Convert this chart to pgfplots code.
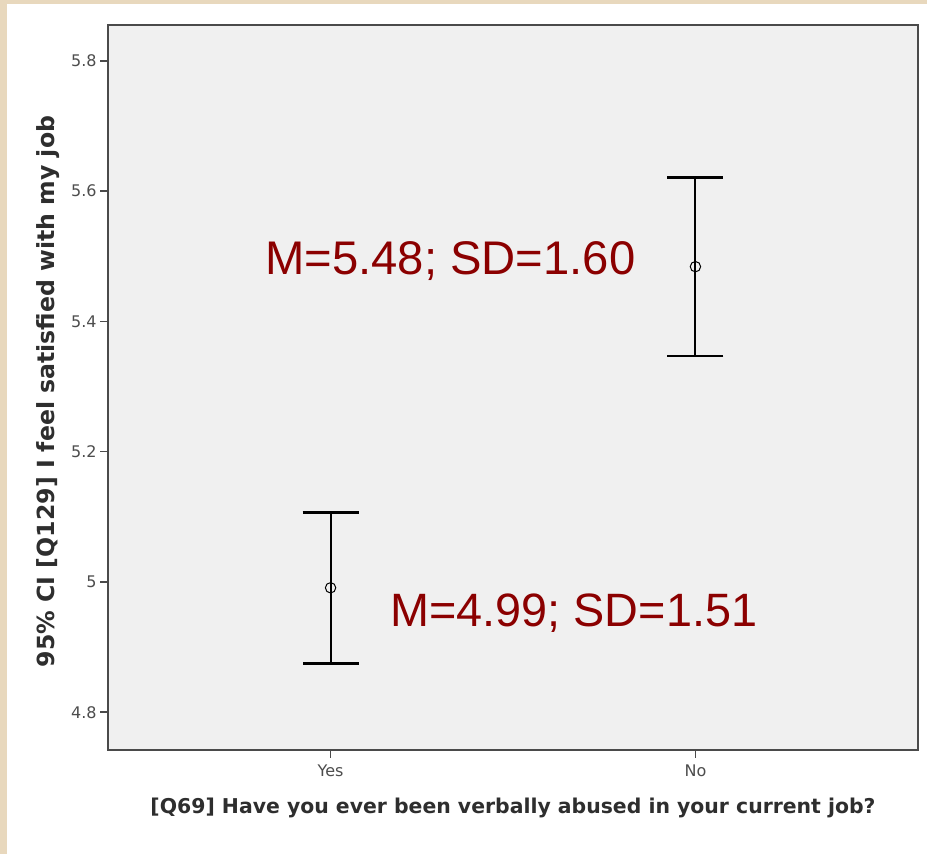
\documentclass[border=0pt]{standalone}
\usepackage{fontspec}
\setmainfont{DejaVu Sans}
\newfontfamily\labelfont{DejaVu Sans}
\newfontfamily\arialfont{Liberation Sans}
\usepackage{pgfplots}
\pgfplotsset{compat=1.18}
\definecolor{frame}{HTML}{E8D8BD}
\definecolor{plotbg}{HTML}{F0F0F0}
\definecolor{axisline}{HTML}{4A4A4A}
\definecolor{ticktext}{HTML}{4D4D4D}
\definecolor{labeltext}{HTML}{2E2E2E}
\definecolor{annot}{HTML}{8B0000}
\begin{document}
\begin{tikzpicture}
% 1px of the reference = 0.5pt
\fill[frame] (0,0) rectangle (463.5pt,-427pt);
\fill[white] (3.5pt,-2pt) rectangle (463.5pt,-427pt);
\begin{axis}[
  at={(54pt,-375pt)}, anchor=south west,
  width=405pt, height=362.5pt, scale only axis,
  xmin=0.39, xmax=2.61, ymin=4.742, ymax=5.855,
  xtick={1,2}, xticklabels={Yes,No},
  ytick={4.8,5,5.2,5.4,5.6,5.8},
  tick align=outside, xtick pos=bottom, ytick pos=left,
  major tick length=4pt,
  tick style={axisline, line width=0.8pt},
  axis line style={axisline, line width=1pt},
  axis background/.style={fill=plotbg},
  ticklabel style={font=\fontsize{8}{9}\selectfont, text=ticktext},
  yticklabel style={inner xsep=1.5pt},
  /pgf/number format/assume math mode=true,
  xlabel={{[Q69]} Have you ever been verbally abused in your current job?},
  ylabel={95\% CI [Q129] I feel satisfied with my job},
  every axis x label/.style={at={(rel axis cs:0.5,0)}, yshift=-29pt, anchor=center,
    font=\labelfont\bfseries\fontsize{10.2}{12}\selectfont, text=labeltext},
  every axis y label/.style={at={(rel axis cs:0,0.5)}, xshift=-30pt, yshift=-2pt, rotate=90, anchor=center,
    font=\labelfont\bfseries\fontsize{11.8}{14}\selectfont, text=labeltext},
  clip=false,
]
\addplot[only marks, mark=o, mark size=2.6pt, mark options={black, line width=0.5pt},
  error bars/.cd, y dir=both, y explicit,
  error bar style={black, line width=0.95pt},
  error mark options={rotate=90, black, line width=1.4pt, mark size=14pt}]
coordinates {
(1,4.991) +=(0,0.115) -=(0,0.116)
(2,5.484) +=(0,0.137) -=(0,0.137)
};
\end{axis}
\node[anchor=base west, text=annot, font=\arialfont\fontsize{23.6}{27}\selectfont, inner sep=0pt] at (132.5pt,-137.5pt) {M=5.48; SD=1.60};
\node[anchor=base west, text=annot, font=\arialfont\fontsize{23.4}{27}\selectfont, inner sep=0pt] at (195pt,-313.5pt) {M=4.99; SD=1.51};
\end{tikzpicture}
\end{document}
